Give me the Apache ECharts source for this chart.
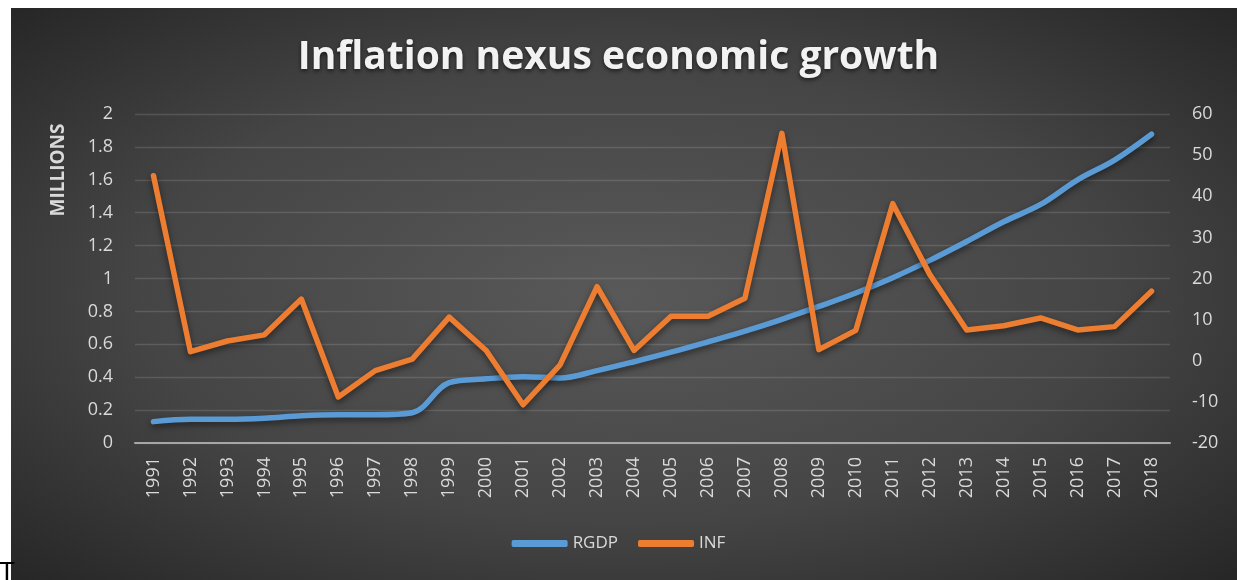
<!DOCTYPE html>
<html>
<head>
<meta charset="utf-8">
<script src="https://cdn.jsdelivr.net/npm/echarts@6/dist/echarts.min.js"></script>
<style>
html,body{margin:0;padding:0;background:#fff;}
#c{width:1237px;height:580px;}
</style>
</head>
<body>
<div id="c"></div>
<script>
const years = ['1991','1992','1993','1994','1995','1996','1997','1998','1999','2000','2001','2002','2003','2004','2005','2006','2007','2008','2009','2010','2011','2012','2013','2014','2015','2016','2017','2018'];
const rgdp = [0.13,0.144,0.144,0.15,0.166,0.172,0.172,0.184,0.367,0.39,0.403,0.395,0.44,0.494,0.552,0.615,0.68,0.752,0.83,0.912,1.005,1.11,1.225,1.345,1.45,1.6,1.72,1.877];
const inf = [45,2.2,4.8,6.3,15,-8.8,-2.4,0.4,10.6,2.5,-10.7,-1,18,2.5,10.8,10.8,15.2,55.3,2.7,7.4,38.2,21,7.5,8.5,10.4,7.5,8.3,16.9];
const leftTicks = {min:0, max:2, interval:0.2};
const rightTicks = {min:-20, max:60, interval:10};

const chart = echarts.init(document.getElementById('c'), null, {renderer:'canvas'});
const W = 1226, H = 572;
const labelColor = '#d9d9d9';
const fontFam = '"Open Sans", sans-serif';
chart.setOption({
  animation:false,
  backgroundColor:'#ffffff',
  graphic:[
    {type:'rect', z:-10, x:11, y:8, scaleX:W/H, shape:{x:0,y:0,width:H,height:H},
     style:{fill:new echarts.graphic.RadialGradient(0.5,0.5,0.72,[
       {offset:0,color:'#595959'},{offset:0.55,color:'#454545'},{offset:1,color:'#252525'}])}},
    {type:'text', x:59, y:170, rotation:Math.PI/2,
     style:{text:'MILLIONS', fill:labelColor, font:'bold 19px '+fontFam, align:'center', verticalAlign:'middle'}},
    {type:'text', x:-1, y:560, style:{text:'T', fill:'#000', font:'26px "Liberation Sans", sans-serif', align:'left', verticalAlign:'top'}}
  ],
  title:{
    text:'Inflation nexus economic growth',
    left:'center', top:33,
    textStyle:{color:'#f2f2f2', fontFamily:fontFam, fontWeight:'bold', fontSize:39,
      textShadowColor:'rgba(0,0,0,0.6)', textShadowBlur:4, textShadowOffsetY:2}
  },
  legend:{
    bottom:23, left:'center',
    itemWidth:56, itemHeight:7, itemGap:20, icon:'roundRect',
    textStyle:{color:labelColor, fontFamily:fontFam, fontSize:17},
    data:['RGDP','INF']
  },
  grid:{left:135, right:67, top:114, bottom:137, containLabel:false},
  xAxis:{
    type:'category', data:years, boundaryGap:true,
    axisLine:{show:true, lineStyle:{color:'#a6a6a6', width:2}},
    axisTick:{show:false},
    axisLabel:{color:labelColor, fontFamily:fontFam, fontSize:18, rotate:90, margin:14, interval:0}
  },
  yAxis:[
    {type:'value', min:leftTicks.min, max:leftTicks.max, interval:leftTicks.interval,
     axisLine:{show:false}, axisTick:{show:false},
     axisLabel:{color:labelColor, fontFamily:fontFam, fontSize:18, margin:22},
     splitLine:{lineStyle:{color:'rgba(255,255,255,0.13)', width:1.3}}},
    {type:'value', min:rightTicks.min, max:rightTicks.max, interval:rightTicks.interval,
     axisLine:{show:false}, axisTick:{show:false},
     axisLabel:{color:labelColor, fontFamily:fontFam, fontSize:18, margin:22},
     splitLine:{show:false}}
  ],
  series:[
    {name:'RGDP', type:'line', yAxisIndex:0, data:rgdp, smooth:0.35, symbol:'none',
     color:'#5b9bd5',
     lineStyle:{width:5.5, color:'#5b9bd5', cap:'round', join:'round',
       shadowColor:'rgba(0,0,0,0.5)', shadowBlur:6, shadowOffsetY:3}},
    {name:'INF', type:'line', yAxisIndex:1, data:inf, smooth:false, symbol:'none',
     color:'#ed7d31',
     lineStyle:{width:5.5, color:'#ed7d31', cap:'round', join:'round',
       shadowColor:'rgba(0,0,0,0.5)', shadowBlur:6, shadowOffsetY:3}}
  ]
});
</script>
</body>
</html>
